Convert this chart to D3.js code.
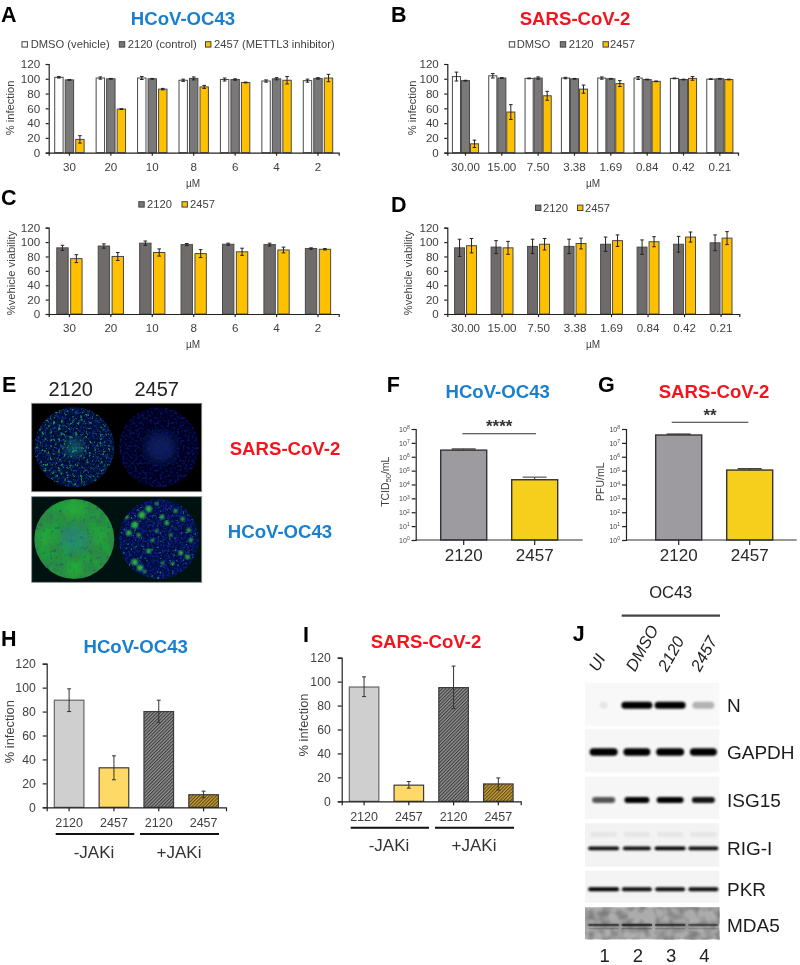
<!DOCTYPE html>
<html><head><meta charset="utf-8">
<script src="https://cdn.jsdelivr.net/npm/d3@7/dist/d3.min.js"></script>
<style>
html,body{margin:0;padding:0;background:#fff}
svg{display:block;filter:blur(0.4px)}
text{font-family:"Liberation Sans",Arial,sans-serif}
</style></head><body><svg id="fig" width="800" height="965"></svg>
<script>
// ---------- data ----------
const percentTicks=[0,20,40,60,80,100,120];
const catsOC43=["30","20","10","8","6","4","2"];
const catsSARS=["30.00","15.00","7.50","3.38","1.69","0.84","0.42","0.21"];
const aDMSO=[102,101,101,98,99,97,97.5];
const a2120=[98.5,100,100,100.5,99,100,100.5];
const a2457=[18,59,86,89,95,98,101];
const aDMSOErr=[1,1.5,2,1.5,2,1.5,2];
const a2120Err=[.5,.5,.5,2,1,1.5,1];
const a2457Err=[5,.5,1,2,.5,5,5];
const bDMSO=[103,104,100.5,101,101,101,100.5,99.5];
const b2120=[97.5,101,101,100,100,99,99,100];
const b2457=[12,55,77,86,93.5,96.5,100.5,99];
const bDMSOErr=[6,3,.5,1,1.5,2,.5,.5];
const b2120Err=[.5,.5,1.5,.5,.5,.5,.5,.5];
const b2457Err=[5,10,6,5.5,4,.5,2.5,.5];
const c2120=[92,94.5,98.5,96.5,97,96.5,91];
const c2457=[77,80,85.5,84,86.5,89,90];
const c2120Err=[3.5,3,3,1.5,1.5,2,1];
const c2457Err=[5.5,5.5,5,5.5,5,4,1];
const d2120=[92,93,94,94,97,93,97,99];
const d2457=[95,92,97,98,102,100.5,107,105.5];
const d2120Err=[12,9,10,10,10,10,11,11];
const d2457Err=[10,9,8,7.5,8,7,7,9];
const titerCats=["2120","2457"];
const logTicks=[1,10,100,1e3,1e4,1e5,1e6,1e7,1e8];
const fTiter=[3e6,2.2e4];
const fTiterTop=[3.7e6,3.4e4];
const gTiter=[3.7e7,1.1e5];
const gTiterTop=[4.4e7,1.4e5];
const jakCats=["2120a","2457a","2120b","2457b"];
const hVals=[89.5,33,80,10.5];
const hLow=[80,23,71,8];
const hHigh=[99,43,89.5,13.5];
const iVals=[95.5,13.5,95,14.5];
const iLow=[87.5,11,77.5,9.5];
const iHigh=[104,16.5,113,19.5];
const laneNames=["UI","DMSO","2120","2457"];
const laneNumbers=["1","2","3","4"];
const blotNames=["N","GAPDH","ISG15","RIG-I","PKR","MDA5"];
const blotN=[.07,1,1,.28];
const blotGAPDH=[1,1,1,1];
const blotISG15=[.65,1,1,.92];
const blotRIG=[.95,.95,1,.95];
const blotPKR=[1,.95,.95,.95];
const blotMDA5=[.6,.8,.65,.5];
const spotsOC43Low=[[-.42,-.6],[-.25,-.75],[-.6,-.35],[-.75,-.15],[-.15,.03],[.2,-.4],[.42,-.7],[-.25,.3],[-.6,.58],[-.47,.72],[.55,.35],[.72,.45],[.8,.03],[.75,-.22],[-.8,-.55],[-.05,-.88],[.08,-.55],[-.35,.82],[.3,-.1],[-.05,-.2],[.35,.62],[.6,-.5],[-.5,-.1],[.1,.6]];
const spotsOC43LowSize=[5,4.5,5,4,2.5,3.5,3,3.5,4.5,4.5,3.5,3.5,3,3,3,2.5,3.5,2.5,2.5,2.5,2.5,3,3,2.5];

// ---------- shared ----------
const svg=d3.select("#fig");
const defs=svg.append("defs");
const INK="#3f3f3f",BLUE="#1a7fcf",RED="#f5141e";
const cDMSO="#ffffff",c2120col="#7a7878",cGold="#ffc000";

function hatch(id,bg,fg){
  const p=defs.append("pattern").attr("id",id).attr("width",2.4).attr("height",2.4)
    .attr("patternUnits","userSpaceOnUse").attr("patternTransform","rotate(-45)");
  p.append("rect").attr("width",2.4).attr("height",2.4).attr("fill",bg);
  p.append("rect").attr("width",2.4).attr("height",1.1).attr("fill",fg);
}
hatch("hGrey","#969696","#3a3a3a");
hatch("hGold","#c9a33c","#5c4712");

function label(t,x,y,opt={}){
  return svg.append("text").text(t).attr("x",x).attr("y",y)
    .attr("text-anchor",opt.anchor||"middle").attr("font-size",opt.size||12)
    .attr("font-weight",opt.bold?"bold":"normal").attr("fill",opt.fill||INK);
}
function title(t,x,y,fill){return label(t,x,y,{size:18.6,bold:true,fill});}
function letter(t,x,y){return label(t,x,y,{anchor:"start",size:21.5,bold:true,fill:"#000"});}
function yTitle(t,x,y,size){
  return svg.append("text").attr("transform",`translate(${x},${y}) rotate(-90)`)
    .attr("text-anchor","middle").attr("dominant-baseline","central").attr("font-size",size).attr("fill",INK).text(t);
}
function styleAxis(g,size){
  g.selectAll("text").attr("font-size",size).attr("fill",INK).attr("font-family",'"Liberation Sans",Arial,sans-serif');
  g.selectAll("line,path").attr("stroke","#222").attr("stroke-width",1.2);
}
function legend(items,y){
  items.forEach(d=>{
    svg.append("rect").attr("x",d[2]).attr("y",y-2.6).attr("width",5.4).attr("height",5.4)
      .attr("fill",d[1]).attr("stroke","#444").attr("stroke-width",1);
    label(d[0],d[3],y+4,{anchor:"start",size:11.2});
  });
}
function errBar(g,x,top,low,cap=2,color="#222"){
  g.append("line").attr("x1",x).attr("x2",x).attr("y1",top).attr("y2",low).attr("stroke",color).attr("stroke-width",1);
  [top,low].forEach(v=>g.append("line").attr("x1",x-cap).attr("x2",x+cap).attr("y1",v).attr("y2",v).attr("stroke",color).attr("stroke-width",1));
}
function groupedChart(o){
  const x0=d3.scaleBand().domain(o.cats).range([o.left,o.right]).paddingInner(o.pad).paddingOuter(o.pad/2);
  const x1=d3.scaleBand().domain(o.series.map((s,i)=>i)).range([0,x0.bandwidth()]).paddingInner(o.gap);
  const y=d3.scaleLinear().domain([0,120]).range([o.y0,o.y120]);
  const g=svg.append("g");
  o.series.forEach((s,i)=>{
    s.vals.forEach((v,k)=>{
      const bx=x0(o.cats[k])+x1(i);
      g.append("rect").attr("x",bx).attr("y",y(v)).attr("width",x1.bandwidth()).attr("height",y(0)-y(v))
        .attr("fill",s.color).attr("stroke","#4a4a4a").attr("stroke-width",1);
    });
  });
  o.series.forEach((s,i)=>{
    s.vals.forEach((v,k)=>{
      const cx=x0(o.cats[k])+x1(i)+x1.bandwidth()/2;
      errBar(g,cx,y(v+s.errs[k]),y(v-s.errs[k]),1.8);
    });
  });
  const ax=svg.append("g").attr("transform",`translate(0,${o.y0})`)
    .call(d3.axisBottom(x0).tickSize(3).tickPadding(7)); styleAxis(ax,11.6);
  const ay=svg.append("g").attr("transform",`translate(${o.left},0)`)
    .call(d3.axisLeft(y).tickValues(percentTicks).tickSize(3).tickPadding(5.5)); styleAxis(ay,11.6);
}

// ---------- A–D ----------
groupedChart({left:48.7,right:338.7,y0:152.7,y120:64,cats:catsOC43,pad:.29,gap:.2,series:[
  {vals:aDMSO,errs:aDMSOErr,color:cDMSO},{vals:a2120,errs:a2120Err,color:c2120col},{vals:a2457,errs:a2457Err,color:cGold}]});
groupedChart({left:447.3,right:738,y0:152.7,y120:64,cats:catsSARS,pad:.28,gap:.1,series:[
  {vals:bDMSO,errs:bDMSOErr,color:cDMSO},{vals:b2120,errs:b2120Err,color:c2120col},{vals:b2457,errs:b2457Err,color:cGold}]});
groupedChart({left:48.7,right:338.7,y0:314,y120:227.7,cats:catsOC43,pad:.39,gap:.18,series:[
  {vals:c2120,errs:c2120Err,color:"#6f6b6a"},{vals:c2457,errs:c2457Err,color:cGold}]});
groupedChart({left:447.3,right:739.3,y0:314,y120:227.7,cats:catsSARS,pad:.4,gap:.17,series:[
  {vals:d2120,errs:d2120Err,color:"#6f6b6a"},{vals:d2457,errs:d2457Err,color:cGold}]});

letter("A",1,21.7);letter("B",391,21.7);letter("C",1,205);letter("D",391,211.7);
title("HCoV-OC43",183,25,BLUE);title("SARS-CoV-2",575,25,RED);
legend([["DMSO (vehicle)",cDMSO,22,30.7],["2120 (control)",c2120col,119.3,127.7],["2457 (METTL3 inhibitor)",cGold,205.5,214]],44.3);
legend([["DMSO",cDMSO,509.3,516.7],["2120",c2120col,560.3,568.7],["2457",cGold,603,610]],44.3);
legend([["2120",c2120col,138.8,147],["2457",cGold,182,190]],204.3);
legend([["2120",c2120col,535.5,543],["2457",cGold,577.5,585]],207.7);
yTitle("% infection",10,108,11.2);yTitle("% infection",411.7,108,11.2);
yTitle("%vehicle viability",10.7,273,11.2);yTitle("%vehicle viability",408.3,273,11.2);
label("µM",193,186.5,{size:10});label("µM",593,186.5,{size:10});
label("µM",193,348,{size:10});label("µM",593,348,{size:10});

// ---------- E ----------
letter("E",2,392);
label("2120",70.7,395.7,{size:20,fill:"#222"});label("2457",156.7,395.7,{size:20,fill:"#222"});
label("SARS-CoV-2",285,455,{size:18.6,bold:true,fill:RED});
label("HCoV-OC43",280,537.7,{size:18.6,bold:true,fill:BLUE});
function speckle(id,freq,seed,rgb,k,c){
  const f=defs.append("filter").attr("id",id).attr("x",0).attr("y",0).attr("width","100%").attr("height","100%")
    .attr("color-interpolation-filters","sRGB");
  f.append("feTurbulence").attr("type","fractalNoise").attr("baseFrequency",freq).attr("numOctaves",2).attr("seed",seed);
  f.append("feColorMatrix").attr("type","matrix")
    .attr("values",`0 0 0 0 ${rgb[0]} 0 0 0 0 ${rgb[1]} 0 0 0 0 ${rgb[2]} ${k} 0 0 0 ${c}`);
}
speckle("sA",.36,3,[.1,.55,.3],6,-3.5);
speckle("sAb",.4,8,[.03,.13,.45],5,-2.3);
speckle("sB",.4,5,[.03,.05,.38],5,-2.5);
speckle("sC",.08,11,[.12,.62,.22],3,-1.2);
speckle("sCb",.3,13,[.1,.4,.45],4,-2.3);
speckle("sD",.4,17,[.03,.1,.5],5,-2.2);
speckle("sD2",.35,21,[.1,.5,.3],7,-4.5);
defs.append("filter").attr("id","soft").append("feGaussianBlur").attr("stdDeviation",.8);
defs.append("filter").attr("id","softer").append("feGaussianBlur").attr("stdDeviation",5);
defs.append("filter").attr("id","wellBlur").append("feGaussianBlur").attr("stdDeviation",.5);
const wx=d3.scaleBand().domain(["2120","2457"]).range([33,200]);
function plate(y,h,bg){
  svg.append("rect").attr("x",31.7).attr("y",y).attr("width",170).attr("height",h).attr("fill",bg).attr("stroke","#888").attr("stroke-width",.8);
}
plate(403.3,88.4,"#000");plate(496.7,85.6,"#00120f");
function well(id,key,cy,base,layers){
  const cx=wx(key)+wx.bandwidth()/2-(key==="2120"?.5:-.5),r=40;
  defs.append("clipPath").attr("id",id).append("circle").attr("cx",cx).attr("cy",cy).attr("r",r);
  const outer=svg.append("g").attr("clip-path",`url(#${id})`);
  const g=outer.append("g").attr("filter","url(#wellBlur)");
  g.append("circle").attr("cx",cx).attr("cy",cy).attr("r",r+2).attr("fill",base);
  layers.forEach(f=>g.append("rect").attr("x",cx-r).attr("y",cy-r).attr("width",2*r).attr("height",2*r).attr("filter",`url(#${f})`));
  return {g,cx,cy,r};
}
const w1=well("w1","2120",447.3,"#030c30",["sAb","sA"]);
w1.g.append("circle").attr("cx",w1.cx).attr("cy",w1.cy).attr("r",9).attr("fill","#22a98a").attr("opacity",.45).attr("filter","url(#softer)");
const w2=well("w2","2457",447.3,"#020420",["sB"]);
w2.g.append("circle").attr("cx",w2.cx+2).attr("cy",w2.cy).attr("r",15).attr("fill","#10308a").attr("opacity",.5).attr("filter","url(#softer)");
const w3=well("w3","2120",539,"#2b8a42",["sC","sCb"]);
[[-.72,.0,.22],[.62,-.05,.2],[0,-.75,.28],[0,.75,.22]].forEach(d=>
  w3.g.append("circle").attr("cx",w3.cx+d[0]*40).attr("cy",w3.cy+d[1]*40).attr("r",d[2]*40).attr("fill","#28c030").attr("opacity",.5).attr("filter","url(#softer)"));
w3.g.append("circle").attr("cx",w3.cx).attr("cy",w3.cy).attr("r",14).attr("fill","#2b7fa0").attr("opacity",.45).attr("filter","url(#softer)");
const w4=well("w4","2457",539,"#030c3a",["sD","sD2"]);
const sx=d3.scaleLinear().domain([-1,1]).range([w4.cx-w4.r,w4.cx+w4.r]);
const sy=d3.scaleLinear().domain([-1,1]).range([w4.cy-w4.r,w4.cy+w4.r]);
w4.g.selectAll(".spot").data(spotsOC43Low).join("circle").attr("class","spot")
  .attr("cx",d=>sx(d[0])).attr("cy",d=>sy(d[1])).attr("r",(d,i)=>spotsOC43LowSize[i]*.7)
  .attr("fill","#35c840").attr("opacity",.85).attr("filter","url(#soft)");

// ---------- F, G ----------
function titerChart(o){
  const x=d3.scaleBand().domain(titerCats).range(o.band).padding(.352).paddingOuter(.176);
  const y=d3.scaleLog().domain([1,1e8]).range([540,429]);
  const cols=["#9d9ba0","#f6cf1c"];
  const g=svg.append("g");
  o.vals.forEach((v,i)=>{
    const cx=x(titerCats[i])+x.bandwidth()/2;
    errBar(g,cx,y(o.tops[i]),y(v),12,"#333");
    g.append("rect").attr("x",x(titerCats[i])).attr("y",y(v)).attr("width",x.bandwidth()).attr("height",y(1)-y(v))
      .attr("fill",cols[i]).attr("stroke","#333").attr("stroke-width",1.4);
  });
  const ax=svg.append("g").attr("transform","translate(0,540)")
    .call(d3.axisBottom(x).tickSize(5).tickSizeOuter(0).tickPadding(4)); styleAxis(ax,17);
  ax.select(".domain").remove();
  ax.selectAll("text").attr("fill","#2a2a2a");
  const axisLine=d3.scaleLinear().domain([0,1]).range(o.line);
  svg.append("line").attr("x1",axisLine(0)).attr("x2",axisLine(1)).attr("y1",540).attr("y2",540).attr("stroke","#333").attr("stroke-width",1.2);
  const ay=svg.append("g").attr("transform",`translate(${o.line[0]},0)`)
    .call(d3.axisLeft(y).tickValues(logTicks).tickSize(4).tickPadding(2).tickFormat(()=>"")); styleAxis(ay,7);
  ay.selectAll(".tick text").each(function(d){
    const t=d3.select(this);t.text("10");
    t.append("tspan").attr("dy",-2.5).attr("font-size",5).text(Math.round(Math.log10(d)));
  });
  svg.append("line").attr("x1",o.sig[0]).attr("x2",o.sig[1]).attr("y1",o.sig[2]).attr("y2",o.sig[2]).attr("stroke","#333").attr("stroke-width",1.1);
  label(o.stars,(o.sig[0]+o.sig[1])/2,o.sig[2]-1.5,{size:17,bold:true,fill:"#333"});
}
titerChart({band:[428.2,570.2],line:[415.7,582.7],vals:fTiter,tops:fTiterTop,sig:[462.3,536,433.7],stars:"****"});
titerChart({band:[643.2,785.2],line:[626,796.7],vals:gTiter,tops:gTiterTop,sig:[671.7,748.3,422.3],stars:"**"});
letter("F",386.7,392);letter("G",598,392);
title("HCoV-OC43",497.7,398.3,BLUE);title("SARS-CoV-2",714,397.7,RED);
const tc=yTitle("",385,481.7,10.5);
tc.append("tspan").text("TCID");tc.append("tspan").attr("dy",2.5).attr("font-size",7.5).text("50");tc.append("tspan").attr("dy",-2.5).text("/mL");
yTitle("PFU/mL",600,481.7,10.5);

// ---------- H, I ----------
function jakChart(o){
  const x=d3.scaleBand().domain(jakCats).range([o.left,o.right]).paddingInner(.34).paddingOuter(.17);
  const y=d3.scaleLinear().domain([0,120]).range([o.y0,o.y120]);
  const fills=["#cfcfcf","#ffd966","url(#hGrey)","url(#hGold)"];
  const g=svg.append("g");
  o.vals.forEach((v,i)=>{
    g.append("rect").attr("x",x(jakCats[i])).attr("y",y(v)).attr("width",x.bandwidth()).attr("height",y(0)-y(v))
      .attr("fill",fills[i]).attr("stroke",i===0?"#666":"#3c3c3c").attr("stroke-width",1.2);
  });
  o.vals.forEach((v,i)=>errBar(g,x(jakCats[i])+x.bandwidth()/2,y(o.high[i]),y(o.low[i]),2,"#333"));
  const ax=svg.append("g").attr("transform",`translate(0,${o.y0})`)
    .call(d3.axisBottom(x).tickSize(4).tickPadding(7).tickFormat(d=>d.slice(0,4))); styleAxis(ax,12.5);
  const ay=svg.append("g").attr("transform",`translate(${o.left},0)`)
    .call(d3.axisLeft(y).tickValues(percentTicks).tickSize(4).tickPadding(7).tickSizeOuter(4)); styleAxis(ay,12.2);
  o.groups.forEach(d=>{
    svg.append("line").attr("x1",d[0]).attr("x2",d[1]).attr("y1",o.gy).attr("y2",o.gy).attr("stroke","#111").attr("stroke-width",2);
    label(d[2],d[3],o.gy+23.5,{size:17,fill:"#333"});
  });
}
jakChart({left:46.7,right:226,y0:807.3,y120:663.7,vals:hVals,low:hLow,high:hHigh,gy:834,groups:[[55.7,134.3,"-JAKi",94],[140,219,"+JAKi",179]]});
jakChart({left:341.7,right:520.7,y0:801.3,y120:657.7,vals:iVals,low:iLow,high:iHigh,gy:827.7,groups:[[350.7,429,"-JAKi",389],[435,514,"+JAKi",474]]});
letter("H",1,645.7);letter("I",303,641.7);
title("HCoV-OC43",135.7,653.3,BLUE);title("SARS-CoV-2",426,647.7,RED);
yTitle("% infection",9,731.7,12.9);yTitle("% infection",303.3,725,12.9);

// ---------- J ----------
letter("J",572.7,640.7);
label("OC43",670.7,598,{size:16.5,fill:"#222"});
svg.append("line").attr("x1",621.7).attr("x2",720).attr("y1",615.7).attr("y2",615.7).attr("stroke","#444").attr("stroke-width",2.2);
const lane=d3.scaleBand().domain(laneNames).range([587,720]);
const laneBase=[598,635,667,700];
laneNames.forEach((n,i)=>{
  svg.append("text").attr("transform",`translate(${laneBase[i]},672.5) rotate(-61)`)
    .attr("font-size",16.5).attr("fill","#222").attr("font-style","italic").text(n);
});
defs.append("filter").attr("id","band").attr("x","-20%").attr("y","-100%").attr("width","140%").attr("height","300%")
  .append("feGaussianBlur").attr("stdDeviation",.8);
speckle("mdaNoise",.09,31,[.3,.3,.3],1.3,-.5);
function blot(name,top,bottom,mid,bg,vals,widths,h){
  svg.append("rect").attr("x",585).attr("y",top).attr("width",134.3).attr("height",bottom-top).attr("fill",bg);
  vals.forEach((v,i)=>{
    const c=lane(laneNames[i])+lane.bandwidth()/2;
    svg.append("rect").attr("x",c-widths[i]/2).attr("y",mid-h/2).attr("width",widths[i]).attr("height",h).attr("rx",h/2)
      .attr("fill","#000").attr("opacity",v).attr("filter","url(#band)");
  });
  label(name,727,mid+6.5,{anchor:"start",size:19,fill:"#1c1c1c"});
}
blot("N",682.7,725.7,705.3,"#f8f8f8",blotN,[8,31,31,22],7);
blot("GAPDH",729.3,772.3,752,"#f6f6f6",blotGAPDH,[28,27,28,27],7.5);
blot("ISG15",776.7,819,800,"#f6f6f6",blotISG15,[23,25,27,23],6);
blot("RIG-I",823.3,866.7,848.3,"#f3f3f3",blotRIG,[31,28,31,30],3.8);
[0,1,2,3].forEach(i=>{
  const c=lane(laneNames[i])+lane.bandwidth()/2;
  svg.append("rect").attr("x",c-13).attr("y",832).attr("width",26).attr("height",5).attr("fill","#000").attr("opacity",.05).attr("filter","url(#band)");
});
blot("PKR",870.7,902.7,889.3,"#f4f4f4",blotPKR,[31,30,30,30],4);
blot("MDA5",907.3,939.3,925,"#acacac",blotMDA5,[32,30,30,28],2);
svg.append("rect").attr("x",585).attr("y",907.3).attr("width",134.3).attr("height",32).attr("filter","url(#mdaNoise)");
blotMDA5.forEach((v,i)=>{
  const c=lane(laneNames[i])+lane.bandwidth()/2;
  svg.append("rect").attr("x",c-15).attr("y",924).attr("width",30).attr("height",1.8).attr("fill","#222").attr("opacity",v);
  svg.append("rect").attr("x",c-15).attr("y",928).attr("width",30).attr("height",1.2).attr("fill","#333").attr("opacity",v*.5);
});
const numX=d3.scaleBand().domain(laneNumbers).range([588,721]);
laneNumbers.forEach(n=>label(n,numX(n)+numX.bandwidth()/2,962,{size:18.5,fill:"#222"}));
</script></body></html>
